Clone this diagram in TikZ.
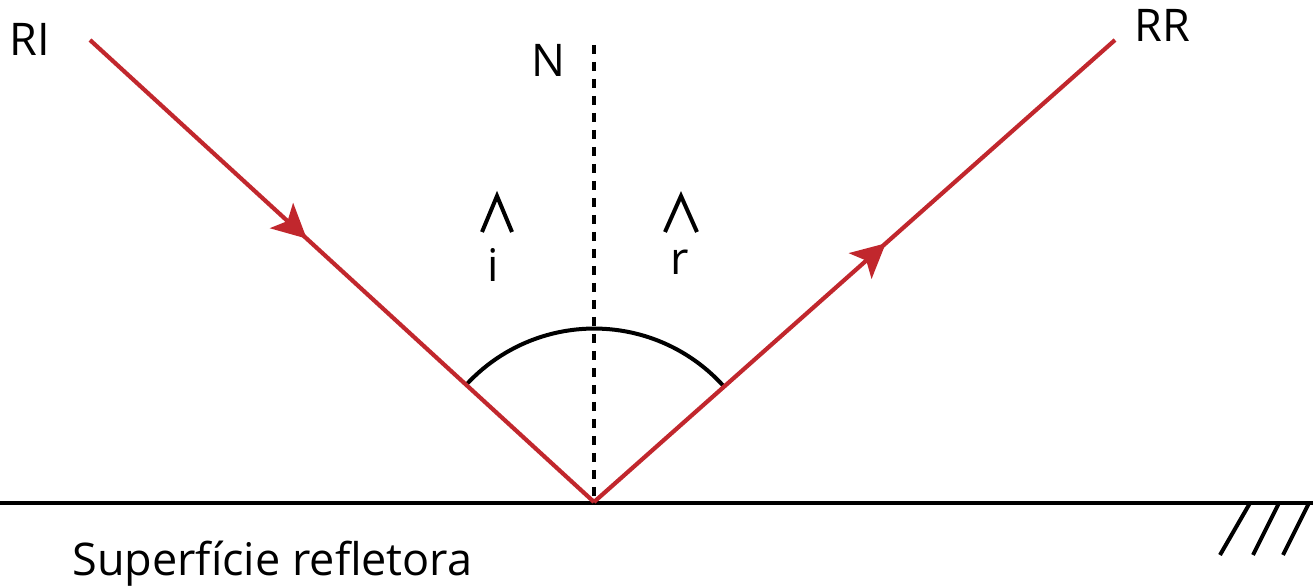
\documentclass[tikz,border=0pt]{standalone}
\usepackage{fontspec}
\setmainfont{Open Sans}
\usetikzlibrary{arrows.meta,decorations.markings}
\definecolor{rayred}{RGB}{193,39,45}
\tikzset{
  ray/.style={draw=rayred,line width=2.1pt},
  lbl/.style={inner sep=0pt,anchor=base west,font=\fontsize{22.5}{26}\selectfont},
  hat/.style={line width=2pt,line cap=butt},
  tipmark/.style={postaction={decorate},decoration={markings,
     mark=at position #1 with {\arrow[rayred]{Stealth[length=17pt,width=17pt,inset=4pt]}}}}
}
\begin{document}
\begin{tikzpicture}[x=0.5pt,y=-0.5pt]
\useasboundingbox (0,0) rectangle (1314,588);
% points
\coordinate (O) at (594,502);
\coordinate (RIs) at (90,40);
\coordinate (RRe) at (1115,40);
\coordinate (Ntop) at (594,45);
\coordinate (SL) at (0,503);
\coordinate (SR) at (1313,503);
\coordinate (A1) at (466,385);
% surface
\draw[line width=2pt] (SL) -- (SR);
\draw[line width=2pt] (1250,503) -- (1220,555);
\draw[line width=2pt] (1279,503) -- (1253,555);
\draw[line width=2pt] (1309,503) -- (1283,555);
% normal
\draw[line width=2.2pt,dash pattern=on 4.5pt off 4pt] (Ntop) -- (O);
% arc
\draw[line width=2pt] (A1) arc[start angle=-137.5,end angle=-41.6,radius=174];
% rays
\draw[ray,tipmark=0.43] (RIs) -- (O);
\draw[ray,tipmark=0.56] (O) -- (RRe);
% hats
\draw[hat] (482,232) -- (497,196) -- (512,232);
\draw[hat] (665,232) -- (681,196) -- (697,232);
% labels
\node[lbl] (ri) at (9,56) {RI};
\node[lbl] (n) at (531,77) {N};
\node[lbl] (rr) at (1134,42) {RR};
\node[lbl,anchor=base] (i) at (493,282) {i};
\node[lbl,anchor=base] (r) at (680,275) {r};
\node[lbl] (sup) at (72,575) {Superfície refletora};
\end{tikzpicture}
\end{document}
